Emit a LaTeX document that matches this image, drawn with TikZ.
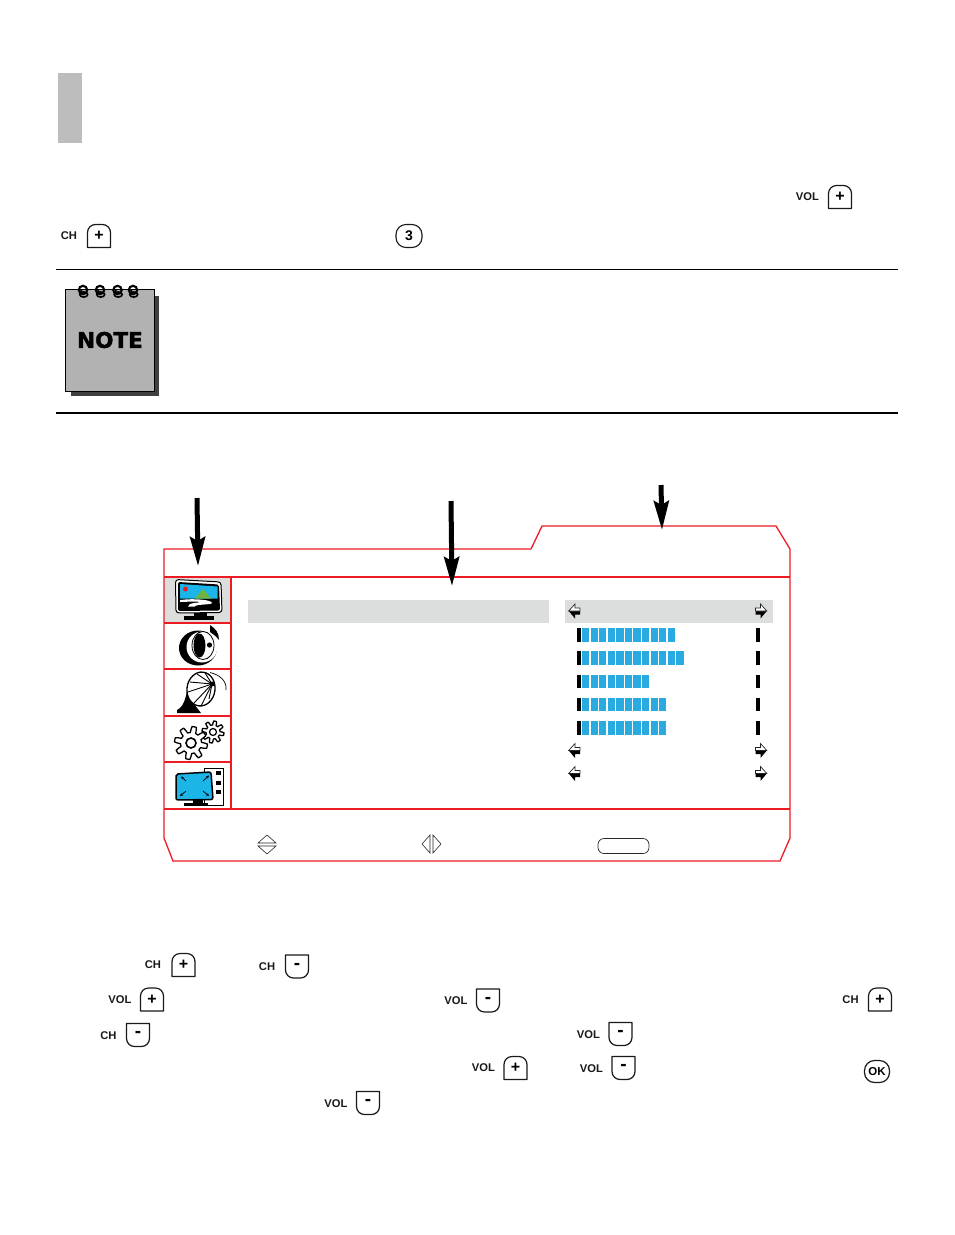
\documentclass[tikz,border=0pt]{standalone}
\usepackage{fontspec}
\setmainfont{Liberation Sans}
\newfontfamily\notefont[BoldFeatures={FakeBold=1.8}]{DejaVu Sans}
\usetikzlibrary{arrows.meta}
\definecolor{menured}{HTML}{ED1C24}
\definecolor{barblue}{HTML}{29ABE2}
\definecolor{skyblue}{HTML}{1CB5E8}
\definecolor{selgray}{HTML}{DCDDDD}
\definecolor{hillgreen}{HTML}{6DB33F}
\tikzset{
  keylabel/.style={font=\bfseries\fontsize{11.2}{11}\selectfont, text=black!90, inner sep=0pt},
  keyedge/.style={line width=1.2pt, draw=black!90, line join=round},
  keysign/.style={font=\bfseries\fontsize{16}{16}\selectfont, inner sep=0pt},
  keyminus/.style={font=\bfseries\fontsize{19}{19}\selectfont, inner sep=0pt},
  redline/.style={draw=menured, line width=1.3pt, line join=miter},
  bigarrow/.style={line width=5pt, -{Stealth[length=29pt,width=15pt,inset=4pt]}, black},
  seg/.style={fill=barblue, draw=none},
  tick/.style={fill=black, draw=none},
  blk/.style={fill=black, draw=none},
  ruleline/.style={draw=black, line width=.8pt},
}
% key-cap with a rounded top (plus)
\newcommand{\pluskey}[3]{%
  \draw[keyedge] (#2-11.5,#3+11.5) [rounded corners=8pt] -- (#2-11.5,#3-11.5) -- (#2+11.5,#3-11.5) [sharp corners] -- (#2+11.5,#3+11.5) -- cycle;
  \node[keysign] (#1) at (#2,#3) {+};}
% key-cap with a rounded bottom (minus)
\newcommand{\minuskey}[3]{%
  \draw[keyedge] (#2-11.5,#3-11.5) [rounded corners=8pt] -- (#2-11.5,#3+11.5) -- (#2+11.5,#3+11.5) [sharp corners] -- (#2+11.5,#3-11.5) -- cycle;
  \node[keyminus] (#1) at (#2,#3-.5) {-};}
% black-and-white menu arrows
\newcommand{\larrow}[2]{%
  \fill[black] (#1-5.8,#2) -- (#1+.5,#2+7.5) -- (#1+.5,#2+3.5) -- (#1+5.5,#2+3.5) -- (#1+5.5,#2) -- cycle;
  \draw[black!85, line width=.7pt, fill=white] (#1-5.8,#2) -- (#1+.5,#2-7) -- (#1+.5,#2-3) -- (#1+5.5,#2-3) -- (#1+5.5,#2) -- cycle;}
\newcommand{\rarrow}[2]{%
  \fill[black] (#1+5.8,#2) -- (#1-.5,#2+7.5) -- (#1-.5,#2+3.5) -- (#1-5.5,#2+3.5) -- (#1-5.5,#2) -- cycle;
  \draw[black!85, line width=.7pt, fill=white] (#1+5.8,#2) -- (#1-.5,#2-7) -- (#1-.5,#2-3) -- (#1-5.5,#2-3) -- (#1-5.5,#2) -- cycle;}
% blue level bar: y-top, y-bottom, count
\newcommand{\levelbar}[3]{%
  \fill[tick] (577,#1) rectangle (581,#2);
  \fill[tick] (756,#1) rectangle (760,#2);
  \foreach \k in {1,...,#3} {\fill[seg] ({582+(\k-1)*8.58},#1) rectangle ({582+(\k-1)*8.58+7.2},#2);}}
% notepad coil
\newcommand{\coil}[1]{%
  \draw[black, line width=2.1pt] (#1,290) ellipse (4.2 and 4.2);
  \draw[black, line width=1.6pt] (#1+.7,294.5) ellipse (4 and 2.6);
  \fill[black] (#1-1.8,291) circle (1.4);}
\newcommand{\gearshape}[3]{% r teeth-amp n
  \draw[black, line width=1.3pt, fill=white, line join=round] plot[samples=#3*12+1, domain=0:360] ({\x}:{#1+#2*max(-1,min(1,2.5*sin(#3*\x)))}) -- cycle;}
\begin{document}
\begin{tikzpicture}[x=1pt,y=-1pt]
\useasboundingbox (0,0) rectangle (954,1235);
\fill[white] (0,0) rectangle (954,1235);

% chapter tab
\fill[black!26] (58,73) rectangle (82,143);

% rules
\coordinate (r1a) at (56,269.5); \coordinate (r1b) at (898,269.5);
\coordinate (r2a) at (56,413); \coordinate (r2b) at (898,413);
\draw[ruleline] (r1a) -- (r1b);
\draw[ruleline, line width=1.3pt] (r2a) -- (r2b);

% keys in the top text
\node[keylabel] (volA) at (807.5,197) {VOL}; \pluskey{kA}{840}{197}
\node[keylabel] (chB) at (69,236) {CH}; \pluskey{kB}{99}{236}
\node[draw=black!90, line width=1.1pt, rounded corners=10pt, minimum width=26pt, minimum height=23pt, inner sep=0pt, font=\bfseries\fontsize{14}{14}\selectfont] (three) at (409,236) {3};

% note pad
\fill[black!75] (71,296) rectangle (159,396);
\draw[black, line width=1pt, fill=black!30] (65.5,289.5) rectangle (154,391);
\coil{83}\coil{100}\coil{117.5}\coil{133}
\node[font=\notefont\bfseries\fontsize{21.5}{22}\selectfont, inner sep=0pt] (note) at (110,340) {NOTE};

% menu body
\fill[selgray] (164,577) rectangle (231,623);
\fill[selgray] (248,600) rectangle (549,623);
\fill[selgray] (565,600) rectangle (773,623);
\draw[redline] (164,549) -- (531,549) -- (542,526) -- (776,526) -- (790,549) -- (790,838) -- (780,861) -- (173,861) -- (164,838) -- cycle;
\draw[redline] (164,577) -- (790,577);
\draw[redline] (164,809) -- (790,809);
\draw[redline] (231,577) -- (231,809);
\foreach \yy in {623,669,716,762} {\draw[redline] (164,\yy) -- (231,\yy);}

% levels
\levelbar{628}{642}{11}
\levelbar{651}{665}{12}
\levelbar{675}{688}{8}
\levelbar{698}{711}{10}
\levelbar{721}{735}{10}
\larrow{574.5}{611}\rarrow{761}{611}
\larrow{574.5}{750.5}\rarrow{761}{750.5}
\larrow{574.5}{773.5}\rarrow{761}{773.5}

% footer symbols
\draw[black!85, line width=.6pt] (258,843) -- (267,835) -- (276,843) -- cycle;
\draw[black!85, line width=.6pt] (258,846) -- (267,854) -- (276,846) -- cycle;
\draw[black!85, line width=.6pt] (430,835) -- (422,844) -- (430,853) -- cycle;
\draw[black!85, line width=.6pt] (433,835) -- (441,844) -- (433,853) -- cycle;
\node[draw=black!85, line width=.7pt, rounded corners=6pt, minimum width=51pt, minimum height=15pt, inner sep=0pt] (okbar) at (623.5,846) {};

% big arrows
\coordinate (a1s) at (197,498); \coordinate (a1e) at (198,566);
\coordinate (a2s) at (451,501); \coordinate (a2e) at (452,586);
\coordinate (a3s) at (661,485); \coordinate (a3e) at (662,530);
\draw[bigarrow] (a1s) -- (a1e);
\draw[bigarrow] (a2s) -- (a2e);
\draw[bigarrow] (a3s) -- (a3e);

% icon 1: picture
\draw[black, line width=1pt, fill=white, rounded corners=3pt] (175.5,579.5) -- (221,582) -- (222,612.5) -- (176,613) -- cycle;
\fill[black, rounded corners=2pt] (178,582) -- (219,584.5) -- (220,610.5) -- (178,611) -- cycle;
\fill[skyblue] (180,584) -- (217.5,586.5) -- (217.5,598.5) -- (180,598.5) -- cycle;
\fill[menured] (185.5,589) circle (2.5);
\fill[hillgreen] (203,589) -- (211,598.5) -- (195,598.5) -- cycle;
\fill[white] (180,600) .. controls (195,598) and (212,600) .. (212,603) .. controls (212,605) and (195,604) .. (195,606.5) -- (188,606.5) .. controls (188,602) and (200,603) .. (200,602) .. controls (195,601) and (185,602) .. (180,602) -- cycle;
\fill[blk] (194,613) rectangle (207,616);
\fill[blk] (184,616) -- (214,616) -- (214,619.5) -- (184,619.5) -- cycle;

% icon 2: sound
\fill[black] (198,648) ellipse (19 and 17.5);
\fill[white] (202,647) ellipse (15.5 and 15.5);
\draw[black, line width=.8pt] (203,645.5) ellipse (11 and 14);
\fill[black] (199.5,645.5) ellipse (6 and 12);
\fill[black] (209.5,645) circle (2.6);
\fill[black] (210,625) .. controls (216,629) and (219,633) .. (219,640) .. controls (216,636) and (213,634) .. (210,632) -- cycle;

% icon 3: dish
\fill[black] (177,713) -- (177,710) .. controls (186,706) and (186,692) .. (190,680) -- (198,702) -- (194,704) -- (201,713) -- cycle;
\draw[black, line width=1.3pt, fill=white, rotate around={-8:(201,689)}] (201,689) ellipse (14 and 17);
\coordinate (hub) at (212,684);
\foreach \ex/\ey in {205/673,197/674,190/682,188/692,194/703,201/706,209/699} {\draw[black, line width=.9pt] (hub) -- (\ex,\ey);}
\fill[black] (hub) circle (2.5);
\draw[black, line width=.7pt] (210,672.5) .. controls (221,675) and (227,682) .. (226,690);

% icon 4: gears
\begin{scope}[shift={(213,732)}]\gearshape{9}{2}{8}\draw[black, line width=1.2pt, fill=white] (0,0) circle (3.5);\end{scope}
\begin{scope}[shift={(191,743)}]\gearshape{13.5}{3}{8}\draw[black, line width=1.6pt, fill=white] (0,0) circle (5);\end{scope}

% icon 5: screen
\draw[black, line width=1pt, fill=white] (204,768) rectangle (223,805.5);
\fill[blk] (216,771) rectangle (221,775);
\fill[blk] (216,781) rectangle (221,785);
\fill[blk] (216,790) rectangle (221,794);
\draw[black, line width=1.5pt, fill=skyblue, rounded corners=2pt] (176,774) -- (211,772) -- (213,799.5) -- (176,800) -- cycle;
\fill[blk] (193,800) rectangle (203,803);
\fill[blk] (184,803) rectangle (208,806);
\draw[black, line width=.7pt, -{Stealth[length=3pt,width=3pt]}] (186,781) -- (181,776.5);
\draw[black, line width=.7pt, -{Stealth[length=3pt,width=3pt]}] (203,781) -- (209,775.5);
\draw[black, line width=.7pt, -{Stealth[length=3pt,width=3pt]}] (186,791) -- (180,796);
\draw[black, line width=.7pt, -{Stealth[length=3pt,width=3pt]}] (203,791) -- (209,796);

% keys in the lower text
\node[keylabel] (l1) at (153,965) {CH}; \pluskey{k1}{183.5}{965}
\node[keylabel] (l2) at (267,967) {CH}; \minuskey{k2}{297}{966.5}
\node[keylabel] (l3) at (120,999.5) {VOL}; \pluskey{k3}{152}{999.5}
\node[keylabel] (l4) at (456,1000.5) {VOL}; \minuskey{k4}{488}{1000.5}
\node[keylabel] (l5) at (850.5,999.5) {CH}; \pluskey{k5}{880}{999.5}
\node[keylabel] (l6) at (108.5,1035.5) {CH}; \minuskey{k6}{138}{1035}
\node[keylabel] (l7) at (588.5,1035) {VOL}; \minuskey{k7}{620.5}{1034}
\node[keylabel] (l8) at (483.5,1068) {VOL}; \pluskey{k8}{515.5}{1068}
\node[keylabel] (l9) at (591.5,1069) {VOL}; \minuskey{k9}{623.5}{1068}
\node[draw=black!90, line width=1.2pt, rounded corners=10pt, minimum width=25pt, minimum height=22pt, inner sep=0pt, font=\bfseries\fontsize{11.5}{11.5}\selectfont] (ok) at (877,1071.5) {OK};
\node[keylabel] (l10) at (336,1103.5) {VOL}; \minuskey{k10}{368}{1103}
\end{tikzpicture}
\end{document}
